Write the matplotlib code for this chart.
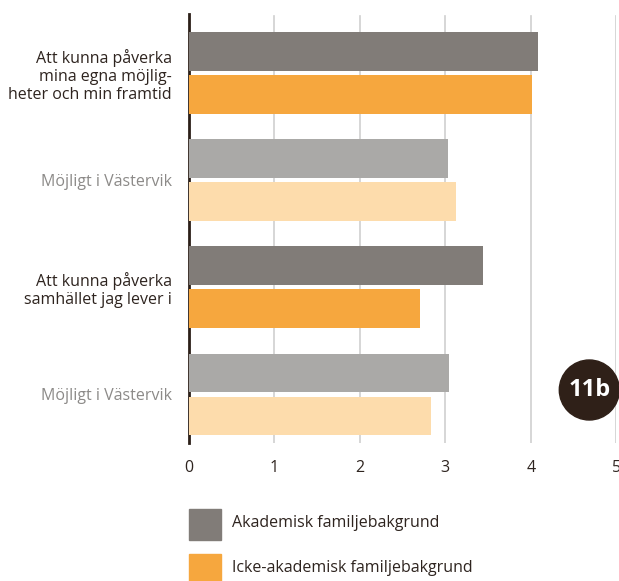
import matplotlib.pyplot as plt
from matplotlib.patches import Rectangle, Circle

# Data
labels = ["Att kunna påverka\nmina egna möjlig-\nheter och min framtid",
          "Möjligt i Västervik",
          "Att kunna påverka\nsamhället jag lever i",
          "Möjligt i Västervik"]
akademisk = [4.09, 3.03, 3.44, 3.04]
icke_akademisk = [4.02, 3.13, 2.71, 2.83]
ticks = [0, 1, 2, 3, 4, 5]
legend_labels = ["Akademisk familjebakgrund", "Icke-akademisk familjebakgrund"]

# Colours: every second group is the lighter "Möjligt i Västervik" variant
top_colors = ["#817c78", "#aaa9a7", "#817c78", "#aaa9a7"]
bottom_colors = ["#f6a73e", "#fddcac", "#f6a73e", "#fddcac"]
label_colors = ["#2e241f", "#8c8a88", "#2e241f", "#8c8a88"]
text_color = "#2e241f"

plt.rcParams['font.family'] = ['Open Sans', 'DejaVu Sans']

W, H = 619, 581
fig = plt.figure(figsize=(W / 100, H / 100), dpi=100)
ax = fig.add_axes([188.7 / W, 1 - 443 / H, 427.6 / W, 429 / H])

bar_h = 0.362
off = 0.201
ypos = list(range(len(labels)))
ax.barh([y - off for y in ypos], akademisk, height=bar_h, color=top_colors, zorder=3)
ax.barh([y + off for y in ypos], icke_akademisk, height=bar_h, color=bottom_colors, zorder=3)

ax.set_xlim(0, 5)
ax.set_ylim(3 + 0.453, -0.551)

for t in ticks[1:]:
    ax.axvline(t, ymin=0, ymax=(429 - 2) / 429, color="#cfcfcf", lw=1.2, zorder=1)

for s in ["top", "right", "bottom"]:
    ax.spines[s].set_visible(False)
ax.spines["left"].set_color("#2b1f18")
ax.spines["left"].set_linewidth(2)

ax.set_xticks(ticks)
ax.set_xticklabels([str(t) for t in ticks], fontsize=11.5, color=text_color)
ax.tick_params(axis="x", length=0, pad=12)
ax.set_yticks(ypos)
ax.set_yticklabels(labels, fontsize=11.5, linespacing=1.15)
for lbl, c in zip(ax.get_yticklabels(), label_colors):
    lbl.set_color(c)
    lbl.set_horizontalalignment("right")
ax.tick_params(axis="y", length=0, pad=12)

# "11b" badge
badge = Circle((589.3 / 100, (H - 390) / 100), 0.30, transform=fig.dpi_scale_trans,
               color="#2f2018", zorder=5)
fig.add_artist(badge)
fig.text(589.3 / W, 1 - 390 / H, "11b", color="white", fontsize=17, fontweight="bold",
         ha="center", va="center", zorder=6)

# Legend
for i, (txt, col) in enumerate(zip(legend_labels, [top_colors[0], bottom_colors[0]])):
    y0 = 509 + i * 45
    fig.add_artist(Rectangle((189 / W, 1 - (y0 + 31) / H), 32 / W, 31 / H,
                             transform=fig.transFigure, color=col))
    fig.text(231.7 / W, 1 - (y0 + 14) / H, txt, fontsize=11.5, color=text_color,
             ha="left", va="center")

fig.savefig("out.png", dpi=100)
